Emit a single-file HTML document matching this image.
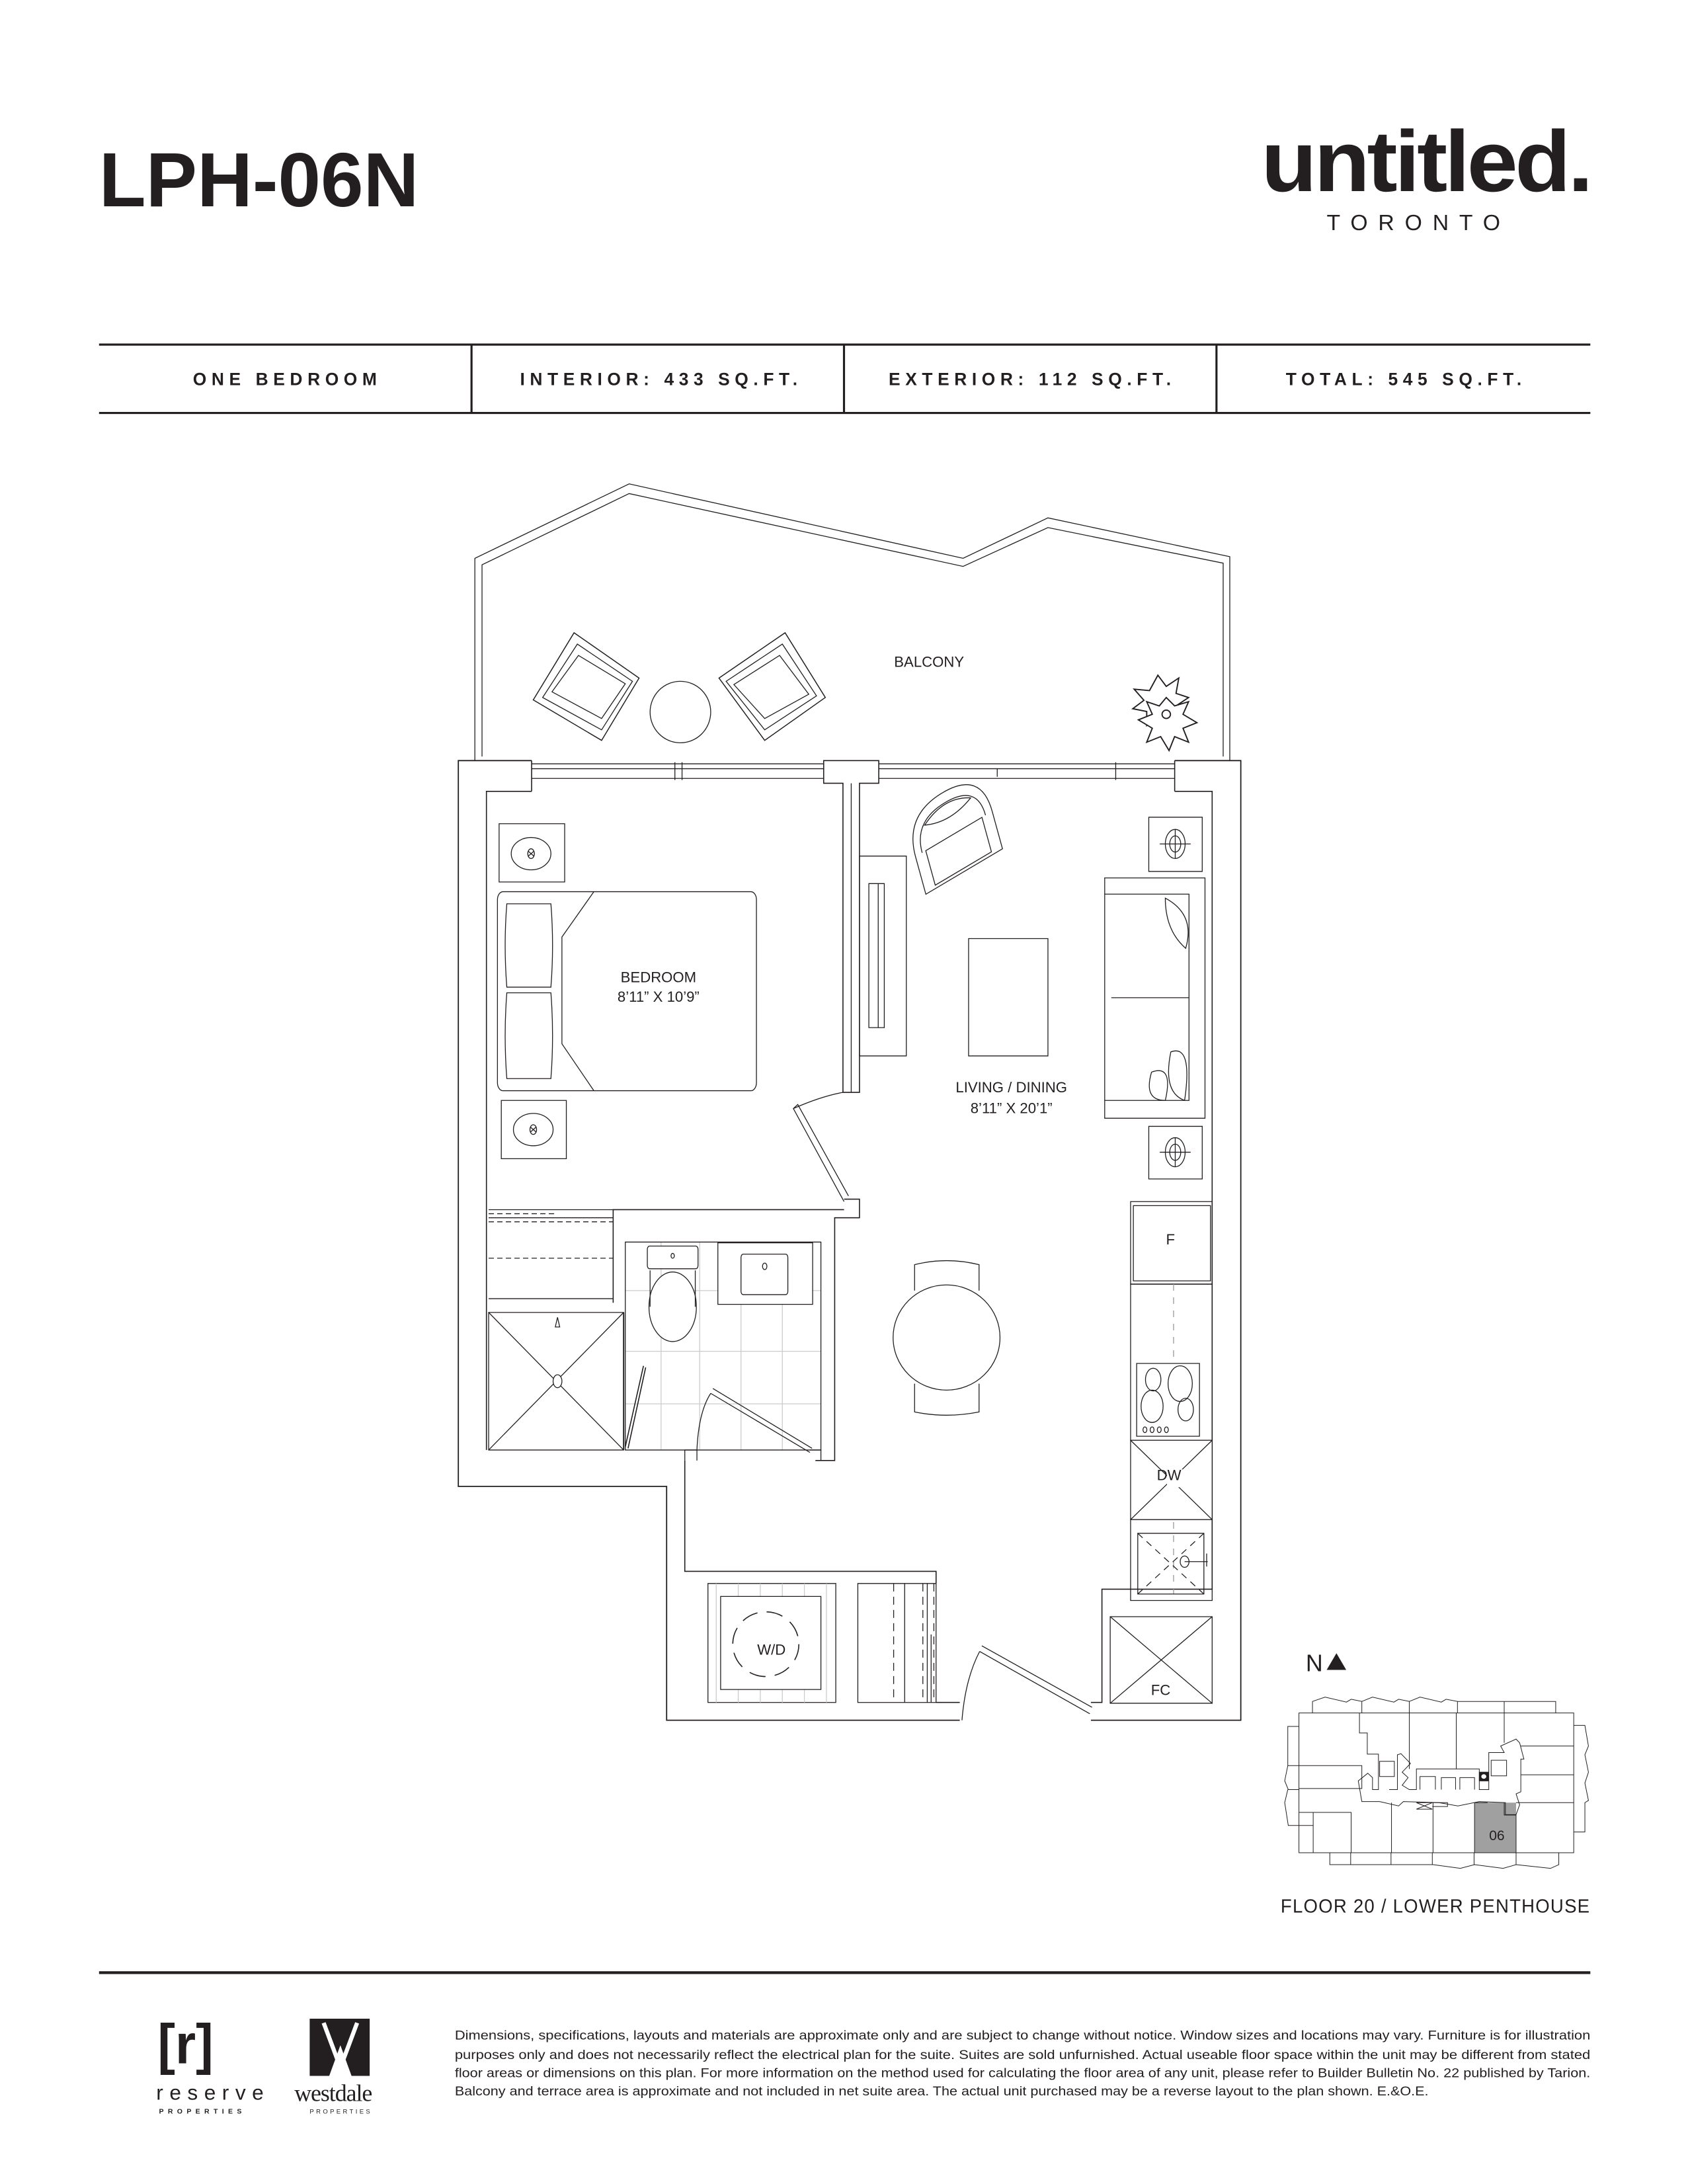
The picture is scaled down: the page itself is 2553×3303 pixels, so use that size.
<!DOCTYPE html>
<html><head><meta charset="utf-8"><style>
html,body{margin:0;padding:0;background:#fff}
svg{display:block}
text{font-family:"Liberation Sans",sans-serif;fill:#231f20}
.p *{vector-effect:non-scaling-stroke}
</style></head><body>
<svg width="2553" height="3303" viewBox="0 0 1210 1565.5" preserveAspectRatio="none" xmlns="http://www.w3.org/2000/svg">
<rect width="1210" height="1566" fill="#fff"/>
<!-- header -->
<text x="71" y="148" font-size="55" font-weight="bold" fill="#231f20">LPH-06N</text>
<text x="904" y="137" font-size="62" font-weight="bold" letter-spacing="-2" textLength="236" lengthAdjust="spacingAndGlyphs">untitled.</text>
<text x="951" y="165" font-size="16" letter-spacing="7.5">TORONTO</text>
<g stroke="#231f20" stroke-width="1.5">
<line x1="71" y1="247" x2="1140" y2="247"/><line x1="71" y1="296" x2="1140" y2="296"/>
<line x1="338" y1="247" x2="338" y2="296"/><line x1="605" y1="247" x2="605" y2="296"/><line x1="872" y1="247" x2="872" y2="296"/>
<line x1="71" y1="1414" x2="1140" y2="1414" stroke-width="2"/>
</g>
<g font-size="12.5" font-weight="bold" letter-spacing="3.6" text-anchor="middle">
<text x="206" y="276">ONE BEDROOM</text>
<text x="474" y="276">INTERIOR: 433 SQ.FT.</text>
<text x="740" y="276">EXTERIOR: 112 SQ.FT.</text>
<text x="1008" y="276">TOTAL: 545 SQ.FT.</text>
</g>

<!-- floor plan in zoom coords -->
<g class="p" transform="translate(308,330.6) scale(0.395,0.58)" fill="none" stroke="#231f20" stroke-width="1.3">
<!-- balcony -->
<polyline points="82,370 82,120 362,28 968,120 1122,70 1452,118 1452,370"/>
<polyline points="95,365 95,128 362,40 968,130 1122,82 1440,126 1440,365"/>
<!-- balcony furniture -->
<polygon points="188,295 262,212 380,268 312,345" stroke-width="1.5"/>
<polygon points="205,292 268,226 368,272 312,332"/>
<polygon points="222,285 270,240 355,275 312,318"/>
<ellipse cx="455" cy="310" rx="55" ry="38"/>
<polygon points="525,268 645,212 718,292 608,345" stroke-width="1.5"/>
<polygon points="538,272 640,226 702,290 608,332"/>
<polygon points="552,276 635,240 688,288 608,318"/>
<!-- walls -->
<path stroke-width="1.8" d="M185,370 H52 V1267 H430 V1556 H962 M1200,1556 H1472 V370 H1352"/>
<path stroke-width="1.6" d="M185,408 H103 V1222 M463,1235 V1372 H919 V1387 M919,1534 H962 M1200,1534 H1220 V1394 H1420 V408 H1352 M1352,370 V408 M185,370 V408"/>
<!-- windows -->
<path d="M185,374 H715 M185,380 H715 M185,392 H715 M815,374 H1352 M815,380 H1352 M815,392 H1352 M445,372 V394 M458,372 V394 M1030,380 V390 M1245,372 V394"/>
<!-- pier + partition -->
<path stroke-width="1.6" d="M715,370 H815 V398 H780 V780 H750 V398 H715 Z"/>
<line x1="765" y1="398" x2="765" y2="780"/>
<!-- bedroom door -->
<path d="M752,915 L660,800 L668,795 L760,908" />
<path d="M660,800 Q710,785 750,780"/>
<path stroke-width="1.6" d="M752,912 H780 V935 H735 V1235 H700 M333,1040 V925 H752"/>
<!-- closet -->
<path d="M107,925 H333 M107,935 H333 M107,1035 H333"/>
<path stroke-dasharray="8,5" d="M107,930 H230 M107,940 H333 M107,985 H333"/>
<!-- shower -->
<rect x="107" y="1052" width="245" height="170"/>
<path d="M107,1052 L352,1222 M352,1052 L107,1222"/>
<circle cx="232" cy="1137" r="8" fill="#fff"/>
<path d="M228,1070 L232,1058 L236,1070 Z"/>
<line x1="352" y1="1052" x2="352" y2="1222" stroke-width="2"/>
<!-- bathroom -->
<g stroke="#ccc"><path d="M355,1025 H710 M355,1100 H710 M355,1165 H710 M420,965 V1222 M490,965 V1222 M565,965 V1222 M640,965 V1222"/></g>
<rect x="355" y="965" width="355" height="257"/>
<rect x="395" y="970" width="92" height="28" rx="4" fill="#fff"/>
<ellipse cx="441" cy="1045" rx="43" ry="43" fill="#fff"/>
<path d="M400,1000 V1045 M482,1000 V1045"/>
<rect x="523" y="966" width="172" height="76" fill="#fff"/>
<rect x="565" y="980" width="85" height="50" rx="4"/>
<circle cx="608" cy="995" r="4"/><circle cx="441" cy="982" r="3"/>
<path stroke-width="1.6" d="M355,1218 L388,1118 M360,1220 L392,1120"/>
<path d="M463,1235 V1222 H485 V1235 M690,1222 H710 V1235 H735"/>
<path d="M510,1152 L690,1225 M514,1146 L694,1220"/>
<path d="M485,1222 Q488,1175 510,1152"/>
<!-- bedroom furniture -->
<rect x="126" y="448" width="119" height="72"/><ellipse cx="184" cy="485" rx="36" ry="20"/><circle cx="184" cy="485" r="6"/>
<path d="M179,482 L189,488 M189,482 L179,488"/>
<rect x="130" y="790" width="118" height="72"/><ellipse cx="188" cy="826" rx="36" ry="20"/><circle cx="188" cy="826" r="6"/>
<path d="M183,823 L193,829 M193,823 L183,829"/>
<rect x="123" y="532" width="470" height="246" rx="10"/>
<path d="M298,532 L240,588 V720 L298,778"/>
<path d="M140,547 H220 Q226,598 220,650 H140 Q134,598 140,547 Z"/>
<path d="M140,657 H220 Q226,710 220,763 H140 Q134,710 140,657 Z"/>
<!-- living -->
<rect x="780" y="488" width="85" height="247"/>
<rect x="797" y="522" width="28" height="178"/>
<line x1="814" y1="522" x2="814" y2="700"/>
<rect x="978" y="590" width="144" height="145"/>
<rect x="1225" y="515" width="182" height="297"/>
<path d="M1237,535 H1378 V790 H1237 M1237,663 H1378 M1225,535 H1237 M1225,790 H1237"/>
<path d="M1335,540 Q1390,560 1372,602 Q1335,580 1335,540 Z"/>
<path d="M1345,730 Q1385,720 1370,790 Q1330,780 1345,730 Z M1310,755 Q1350,745 1335,790 Q1295,790 1310,755 Z"/>
<rect x="1305" y="440" width="97" height="67"/><circle cx="1353" cy="473" r="18"/><circle cx="1353" cy="473" r="10"/><path d="M1325,473 H1381 M1353,455 V491"/>
<rect x="1305" y="822" width="97" height="65"/><circle cx="1353" cy="854" r="18"/><circle cx="1353" cy="854" r="10"/><path d="M1325,854 H1381 M1353,836 V872"/>
<!-- armchair -->
<g transform="translate(955,470) rotate(-22)">
<path d="M-75,-10 Q-75,-65 0,-65 Q75,-65 75,-10 L75,40 L-75,40 Z"/>
<path d="M-62,-10 Q-62,-52 0,-52 Q62,-52 62,-10"/>
<rect x="-55" y="-10" width="110" height="46"/>
<path d="M-45,-40 Q0,-60 45,-40 Q0,-25 -45,-40 Z"/>
</g>
<!-- dining -->
<ellipse cx="938" cy="1083" rx="97" ry="65"/>
<path d="M880,1025 V993 Q938,983 997,993 V1025"/>
<path d="M880,1140 V1175 Q938,1183 997,1175 V1140"/>
<!-- kitchen -->
<rect x="1272" y="915" width="148" height="102"/><rect x="1277" y="920" width="140" height="93"/>
<rect x="1272" y="1017" width="148" height="193"/>
<line x1="1350" y1="1017" x2="1350" y2="1400" stroke-dasharray="10,10" stroke="#999"/>
<rect x="1283" y="1115" width="114" height="90" fill="#fff"/>
<circle cx="1313" cy="1135" r="14"/><circle cx="1362" cy="1140" r="22"/><circle cx="1311" cy="1168" r="20"/><circle cx="1372" cy="1172" r="14"/>
<circle cx="1298" cy="1197" r="3.5"/><circle cx="1311" cy="1197" r="3.5"/><circle cx="1324" cy="1197" r="3.5"/><circle cx="1337" cy="1197" r="3.5"/>
<rect x="1272" y="1210" width="148" height="98" fill="#fff"/><path d="M1272,1210 L1420,1308 M1420,1210 L1272,1308"/>
<rect x="1338" y="1246" width="32" height="22" fill="#fff" stroke="none"/>
<rect x="1272" y="1308" width="148" height="100"/>
<rect x="1285" y="1325" width="120" height="75"/>
<path stroke-dasharray="10,8" d="M1285,1325 L1405,1400 M1405,1325 L1285,1400"/>
<ellipse cx="1370" cy="1360" rx="8" ry="7" fill="#fff"/><path d="M1370,1360 H1412 M1410,1350 V1366"/>
<rect x="1235" y="1428" width="185" height="107"/><path d="M1235,1428 L1420,1535 M1420,1428 L1235,1535"/>
<rect x="1300" y="1505" width="30" height="20" fill="#fff" stroke="none"/>
<!-- W/D closets -->
<rect x="505" y="1387" width="232" height="147"/>
<g stroke="#ccc"><path d="M520,1387 V1534 M560,1387 V1534 M600,1387 V1534 M640,1387 V1534 M680,1387 V1534 M720,1387 V1534"/></g>
<rect x="528" y="1403" width="182" height="115" fill="#fff"/>
<ellipse cx="610" cy="1462" rx="60" ry="40" stroke-dasharray="25,14" stroke-width="1.6"/>
<rect x="777" y="1387" width="142" height="147"/>
<path stroke-dasharray="12,8" d="M842,1387 V1534 M895,1387 V1534 M915,1387 V1534"/>
<path d="M862,1387 V1534 M903,1387 V1534 M910,1450 V1534"/>
<!-- entry door -->
<path d="M998,1471 L1198,1548 M1002,1464 L1202,1540"/>
<path d="M998,1471 Q972,1505 966,1556"/>
</g>
<g font-size="10.5" text-anchor="middle" fill="#231f20">
<text x="666" y="478">BALCONY</text>
<text x="472" y="704">BEDROOM</text><text x="472" y="718">8’11” X 10’9”</text>
<text x="725" y="783">LIVING / DINING</text><text x="725" y="798">8’11” X 20’1”</text>
<text x="839" y="892">F</text>
<text x="838" y="1061">DW</text>
<text x="553" y="1186">W/D</text>
<text x="832" y="1215">FC</text>
</g>
<!-- plant -->
<g fill="#fff" stroke="#231f20" stroke-width="0.9">
<polygon points="830,484 836,492 845,486 843,497 852,500 843,506 848,514 838,512 836,522 830,513 822,520 822,510 812,508 820,502 813,494 824,495"/>
<polygon points="836,500 842,506 852,503 848,512 858,518 848,522 852,532 842,528 838,538 832,528 822,532 826,522 816,516 826,512 822,503 831,506"/>
<circle cx="836" cy="512" r="3"/>
</g>

<!-- key plan -->
<text x="936" y="1198" font-size="17">N</text><polygon points="951,1197 958,1185 965,1197" fill="#231f20"/>
<g transform="translate(900.5,1161.1) scale(0.1701,0.156)" fill="none" stroke="#231f20" stroke-width="1" class="p">
<rect x="920" y="840" width="175" height="230" fill="#a0a0a0" stroke="none"/>
<path d="M920,840 V1070 H1095 V897 H1045 V840 M920,840 H975"/>
<path d="M180,428 H1338 V1070 H180 Z"/>
<path d="M237,428 V375 L290,355 L380,378 L400,365 L445,375 V428 M445,375 L490,355 L580,378 L600,365 L645,375 V428 M645,375 L690,355 L780,378 L800,365 L848,375 V428 M848,375 H1262 V428 M1045,375 V565"/>
<path d="M310,1070 V1125 H742 L745,1125 L860,1142 L920,1125 L1040,1142 L1095,1125 L1240,1142 L1275,1125 V1070 M398,1070 V1125 M568,1070 V1125 M742,1070 V1125 M918,1070 V1125 M1095,1070 V1125"/>
<path d="M180,490 H133 V670 H180 M133,670 L120,740 L135,780 L180,780 M133,780 L120,840 L135,945 H240"/>
<path d="M1338,485 H1385 L1400,580 L1385,620 L1400,700 L1385,750 L1400,830 L1385,840 V975 H1338 M1338,580 H1115 M1338,712 H1115 M1338,840 H1095"/>
<path d="M180,670 H445 V775 H180 M180,885 H240 V1070 M240,885 H400 V1070 M570,840 V1070 M745,840 V1070"/>
<path d="M435,428 V520 H468 V617 H515 V780 H490 V725 L470,705 L430,740 L445,835 H520 L600,855 L620,835 L770,840 L850,855 L940,835 L1050,840 V895 H1095 L1110,850 L1095,800 L1115,790 L1115,640 L1128,640 L1110,565 L1095,548 L1030,580 L1045,610 H980 V780 H940 V685 H675 V780 H645 L615,760 L640,725 L615,700 L650,660 L610,615 L595,620 V780 L560,780"/>
<path d="M645,428 V685 M843,428 V685"/>
<rect x="520" y="650" width="62" height="70"/><rect x="990" y="645" width="65" height="72"/>
<path d="M690,780 V720 H755 V780 M780,780 V725 H840 V780 M858,780 V725 H920 V780 M675,840 H742 L675,870 H742 L675,840 M742,840 H806 V858 H742"/>
<rect x="940" y="700" width="38" height="40" fill="#231f20"/><circle cx="959" cy="720" r="12" fill="#fff"/>
</g>
<text x="1073" y="1319" font-size="10" text-anchor="middle">06</text>
<text x="918" y="1371" font-size="13.5" letter-spacing="0.6" textLength="222" lengthAdjust="spacingAndGlyphs">FLOOR 20 / LOWER PENTHOUSE</text>

<!-- footer logos -->
<text x="113" y="1479" font-size="40" font-weight="bold" textLength="40" lengthAdjust="spacingAndGlyphs">[r]</text>
<text x="112" y="1505" font-size="15" letter-spacing="4.5">reserve</text>
<text x="114" y="1515" font-size="5" letter-spacing="3" font-weight="bold">PROPERTIES</text>
<path d="M222,1447 H265 V1488 H252 L244,1466 L236,1488 H222 Z" fill="#231f20"/>
<path d="M232,1450 L244,1482 L256,1450" stroke="#fff" stroke-width="3" fill="none"/>
<text x="211" y="1506" font-size="17" letter-spacing="-0.5" style="font-family:'Liberation Serif',serif">westdale</text>
<text x="222" y="1515" font-size="4.5" letter-spacing="1.6">PROPERTIES</text>
<g font-size="9.3" fill="#231f20">
<text x="326" y="1462" textLength="814" lengthAdjust="spacingAndGlyphs">Dimensions, specifications, layouts and materials are approximate only and are subject to change without notice. Window sizes and locations may vary. Furniture is for illustration</text>
<text x="326" y="1476" textLength="814" lengthAdjust="spacingAndGlyphs">purposes only and does not necessarily reflect the electrical plan for the suite. Suites are sold unfurnished. Actual useable floor space within the unit may be different from stated</text>
<text x="326" y="1489" textLength="814" lengthAdjust="spacingAndGlyphs">floor areas or dimensions on this plan.  For more information on the method used for calculating the floor area of any unit, please refer to Builder Bulletin No. 22 published by Tarion.</text>
<text x="326" y="1502" textLength="698" lengthAdjust="spacingAndGlyphs">Balcony and terrace area is approximate and not included in net suite area. The actual unit purchased may be a reverse layout to the plan shown. E.&amp;O.E.</text>
</g>
</svg>
</body></html>
